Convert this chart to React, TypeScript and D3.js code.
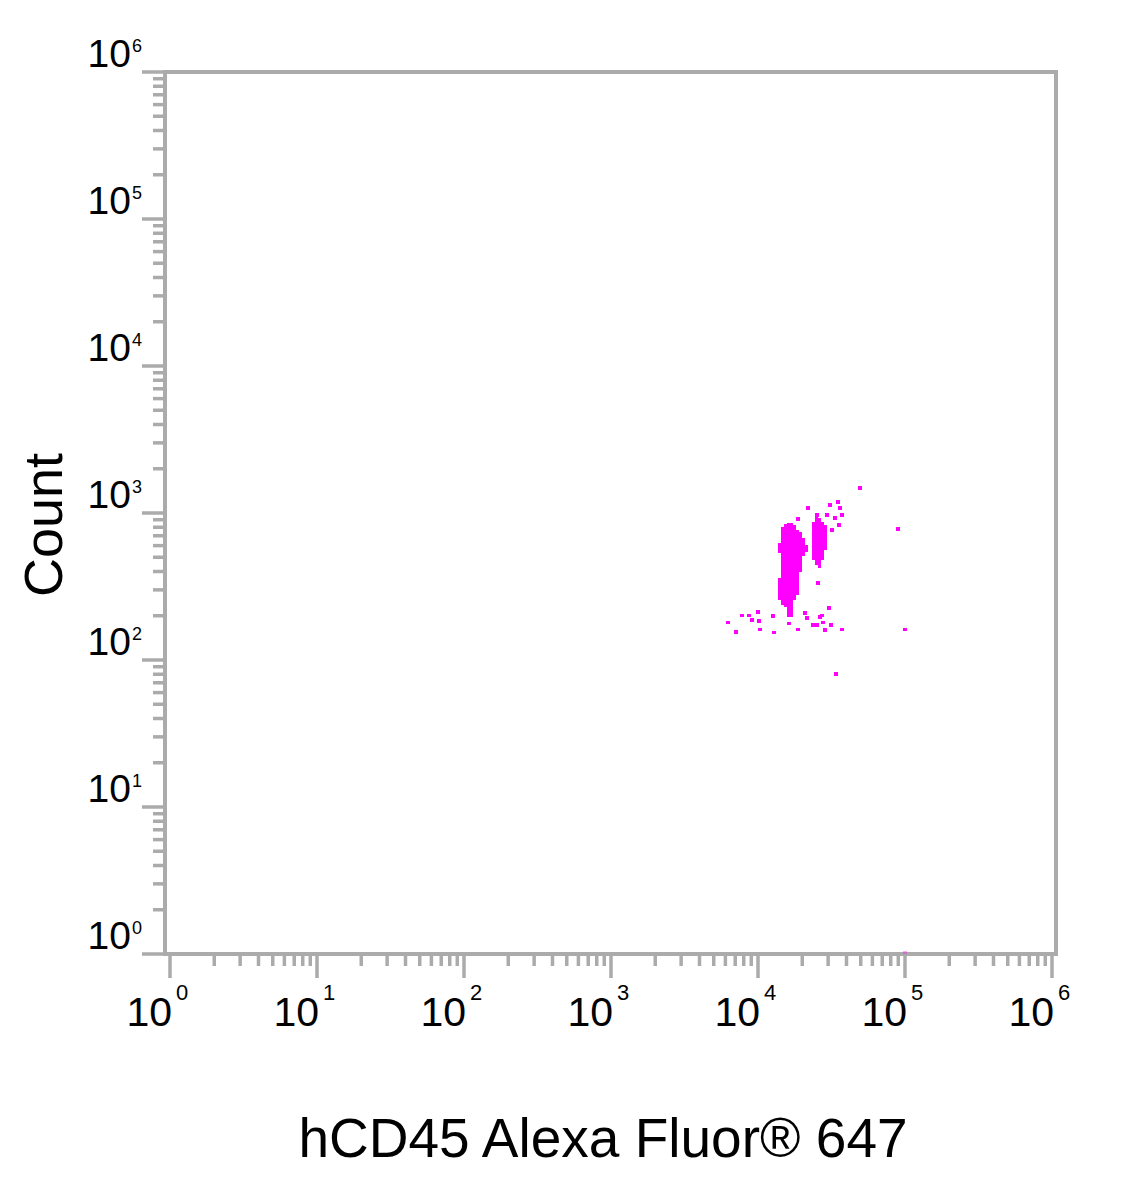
import React from 'react';
import * as d3 from 'd3';

// Axis decades (exponents of ten)
const decadeExponents = ['0', '1', '2', '3', '4', '5', '6'];

// Dense cell columns: [xFrom, xTo, countLow, countHigh]
const mainBlob: [number, number, number, number][] = [
  [13680, 14340, 535, 625],
  [13680, 14340, 256, 361],
  [14340, 15030, 237, 803],
  [15030, 15750, 229, 842],
  [15750, 16510, 196, 855],
  [16510, 17300, 196, 855],
  [17300, 18140, 256, 829],
  [18140, 19010, 277, 766],
  [19010, 19920, 397, 743],
  [19920, 20880, 510, 676],
  [20880, 21890, 543, 606],
];

const secondBlob: [number, number, number, number][] = [
  [23290, 24420, 479, 869],
  [24420, 25590, 443, 969],
  [25590, 26830, 423, 925],
  [26830, 28120, 479, 869],
  [28120, 29470, 560, 829],
];

// Single events: [fluorescence, count]
const scatterEvents: [number, number][] = [
  [49410, 1480], [21890, 1081], [30900, 1134], [35020, 1188], [36130, 1081],
  [29470, 969], [33400, 925], [37260, 969], [25200, 969], [35560, 829],
  [31880, 766], [89620, 778], [18720, 910], [25590, 334],
  [6250, 181], [7085, 155], [7785, 202], [8687, 202], [9105, 187],
  [10000, 212], [10160, 184], [10320, 162], [12650, 199], [12850, 153],
  [16250, 178], [18720, 162], [20880, 209], [21540, 193], [23670, 173],
  [25200, 173], [26410, 196], [27250, 202], [27680, 181], [28570, 160],
  [30410, 226], [31380, 173], [37260, 162], [100000, 162], [33930, 80.3],
];

// Faint event sitting on the axis
const edgeEvents: [number, number][] = [[100000, 1.1]];

const FONT = '"Liberation Sans", Arial, Helvetica, sans-serif';
const AXIS = '#ababab';
const DOT = '#ff00ff';

const App: React.FC = () => {
  const width = 1133;
  const height = 1201;

  const x = d3.scaleLog().domain([1, 1e6]).range([170, 1052]);
  const y = d3.scaleLog().domain([1, 1e6]).range([954, 72]);

  const frame = { left: 165, right: 1056, top: 72, bottom: 954 };

  const xTicks = x.ticks();
  const yTicks = y.ticks();
  const isMajor = (v: number) => Math.abs(Math.log10(v) - Math.round(Math.log10(v))) < 1e-9;

  const dot = 3.2;

  return (
    <svg
      width={width}
      height={height}
      style={{ position: 'absolute', left: 0, top: 0, background: '#fff' }}
      fontFamily={FONT}
    >
      <rect x={0} y={0} width={width} height={height} fill="#fff" />

      {/* data */}
      <g fill={DOT} shapeRendering="crispEdges">
        {[...mainBlob, ...secondBlob].map((c, i) => (
          <rect
            key={`b${i}`}
            x={x(c[0])}
            width={x(c[1]) - x(c[0])}
            y={y(c[3])}
            height={y(c[2]) - y(c[3])}
          />
        ))}
        {scatterEvents.map((d, i) => (
          <rect key={`p${i}`} x={x(d[0]) - dot / 2} y={y(d[1]) - dot / 2} width={dot} height={dot} />
        ))}
      </g>

      {/* frame */}
      <rect
        x={frame.left}
        y={frame.top}
        width={frame.right - frame.left}
        height={frame.bottom - frame.top}
        fill="none"
        stroke={AXIS}
        strokeWidth={4}
      />

      {edgeEvents.map((d, i) => (
        <rect key={`e${i}`} x={x(d[0]) - 2} y={frame.bottom - 3} width={4} height={3} fill={DOT} opacity={0.35} />
      ))}

      {/* y ticks */}
      <g stroke={AXIS} strokeWidth={3.5}>
        {yTicks.map((v, i) => (
          <line
            key={`yt${i}`}
            x1={frame.left}
            x2={frame.left - (isMajor(v) ? 23 : 12)}
            y1={y(v)}
            y2={y(v)}
          />
        ))}
      </g>

      {/* x ticks */}
      <g stroke={AXIS} strokeWidth={3.5}>
        {xTicks.map((v, i) => (
          <line
            key={`xt${i}`}
            x1={x(v)}
            x2={x(v)}
            y1={frame.bottom}
            y2={frame.bottom + (isMajor(v) ? 24 : 12)}
          />
        ))}
      </g>

      {/* y tick labels */}
      {decadeExponents.map((e, i) => {
        const yy = y(Math.pow(10, i)) - 5;
        return (
          <g key={`yl${e}`}>
            <text x={131} y={yy} textAnchor="end" fontSize={39} fill="#000">10</text>
            <text x={132} y={yy - 15} fontSize={18} fill="#000">{e}</text>
          </g>
        );
      })}

      {/* x tick labels */}
      {decadeExponents.map((e, i) => {
        const xx = x(Math.pow(10, i));
        return (
          <g key={`xl${e}`}>
            <text x={xx + 2} y={1026} textAnchor="end" fontSize={41} fill="#000">10</text>
            <text x={xx + 6} y={1000} fontSize={22} fill="#000">{e}</text>
          </g>
        );
      })}

      {/* axis titles */}
      <text
        transform="translate(62,525) rotate(-90)"
        textAnchor="middle"
        fontSize={54}
        fill="#000"
      >
        Count
      </text>
      <text x={603} y={1157} textAnchor="middle" fontSize={55} fill="#000">
        hCD45 Alexa Fluor® 647
      </text>
    </svg>
  );
};

export default App;
